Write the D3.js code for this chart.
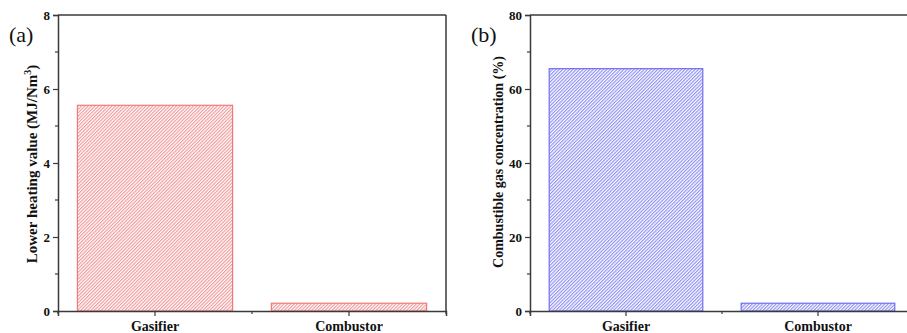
<!DOCTYPE html>
<html>
  <head>
    <meta charset="utf-8" />
    <script src="https://d3js.org/d3.v7.min.js"></script>
    <style>
      body {
        margin: 0;
        background: #fff;
      }
    </style>
  </head>
  <body>
    <svg id="chart" width="907" height="333" style="font-family: 'Liberation Serif', serif"></svg>

    <script>
      // Data
      const categories = ["Gasifier", "Combustor"];
      const lhvValues = [5.56, 0.21]; // MJ/Nm3
      const gasValues = [65.5, 2.1]; // %
      const lhvTicks = [0, 2, 4, 6, 8];
      const gasTicks = [0, 20, 40, 60, 80];

      const FONT = "'Liberation Serif', serif";
      const svg = d3.select("#chart");
      const defs = svg.append("defs");

      // diagonal hatch fills, one per colour
      const makeHatch = (id, color) => {
        const s = 2.4;
        const p = defs
          .append("pattern")
          .attr("id", id)
          .attr("patternUnits", "userSpaceOnUse")
          .attr("width", s)
          .attr("height", s)
          .attr("patternTransform", "rotate(45)");
        p.append("rect").attr("width", s).attr("height", s).attr("fill", "#fff");
        p.append("line")
          .attr("x1", 0.6)
          .attr("y1", 0)
          .attr("x2", 0.6)
          .attr("y2", s)
          .attr("stroke", color)
          .attr("stroke-width", 1.1);
      };
      makeHatch("hatchRed", "#f29494");
      makeHatch("hatchBlue", "#8a8af2");

      const drawPanel = function (opts) {
        const { left, right, top, bottom, values, ticks, maxV } = opts;
        const g = svg.append("g");

        const xc = d3.scaleBand().domain(categories).range([left, right]);
        const y = d3.scaleLinear().domain([0, maxV]).range([bottom, top]);
        const axisColor = "#3a3a3a";

        // bars (80% of each category slot)
        g.selectAll("rect.bar")
          .data(values)
          .join("rect")
          .attr("class", "bar")
          .attr("x", (d, i) => xc(categories[i]) + xc.bandwidth() * 0.1)
          .attr("width", xc.bandwidth() * 0.8)
          .attr("y", (d) => y(d))
          .attr("height", (d) => y(0) - y(d))
          .attr("fill", `url(#${opts.hatch})`)
          .attr("stroke", opts.stroke)
          .attr("stroke-width", 1.2);

        // frame: top and right
        g.append("line")
          .attr("x1", left)
          .attr("x2", right)
          .attr("y1", top)
          .attr("y2", top)
          .attr("stroke", axisColor)
          .attr("stroke-width", 1.5);
        g.append("line")
          .attr("x1", right)
          .attr("x2", right)
          .attr("y1", top)
          .attr("y2", bottom)
          .attr("stroke", axisColor)
          .attr("stroke-width", 1.5);

        // y axis with minor ticks
        const yAxis = g
          .append("g")
          .attr("transform", `translate(${left},0)`)
          .call(d3.axisLeft(y).tickValues(ticks).tickSize(5).tickPadding(3));
        const step = ticks[1] - ticks[0];
        g.append("g")
          .selectAll("line")
          .data(ticks.slice(0, -1).map((t) => t + step / 2))
          .join("line")
          .attr("x1", left - 3)
          .attr("x2", left)
          .attr("y1", (d) => y(d))
          .attr("y2", (d) => y(d))
          .attr("stroke", axisColor)
          .attr("stroke-width", 1.2);

        // x axis, major ticks at centres, minor at slot edges
        const xAxis = g
          .append("g")
          .attr("transform", `translate(0,${bottom})`)
          .call(d3.axisBottom(xc).tickSize(5).tickPadding(5));
        g.append("g")
          .selectAll("line")
          .data([left, xc(categories[1]), right])
          .join("line")
          .attr("x1", (d) => d)
          .attr("x2", (d) => d)
          .attr("y1", bottom)
          .attr("y2", bottom + 3)
          .attr("stroke", axisColor)
          .attr("stroke-width", 1.2);

        [yAxis, xAxis].forEach((a) => {
          a.attr("font-family", FONT);
          a.select(".domain").attr("stroke", axisColor).attr("stroke-width", 1.5);
          a.selectAll(".tick line").attr("stroke", axisColor).attr("stroke-width", 1.2);
          a.selectAll(".tick text")
            .attr("fill", "#111")
            .style("font-family", FONT)
            .style("font-weight", "bold");
        });
        yAxis.selectAll(".tick text").attr("font-size", 13);
        xAxis.selectAll(".tick text").attr("font-size", 14);

        // y title
        const yt = g
          .append("text")
          .attr("transform", `translate(${opts.titleX},${opts.titleY}) rotate(-90)`)
          .attr("text-anchor", "middle")
          .attr("font-size", opts.titleSize)
          .attr("fill", "#111")
          .style("font-family", FONT)
          .style("font-weight", "bold");
        yt.append("tspan").text(opts.title);
        if (opts.sup) {
          yt.append("tspan").attr("dy", -6).attr("font-size", 10).text(opts.sup);
          yt.append("tspan").attr("dy", 6).text(")");
        }

        // panel letter
        g.append("text")
          .attr("x", opts.letterX)
          .attr("y", 42)
          .attr("font-size", 22)
          .attr("fill", "#111")
          .style("font-family", FONT)
          .text(opts.letter);
      };

      drawPanel({
        left: 58,
        right: 446,
        top: 15,
        bottom: 311,
        values: lhvValues,
        ticks: lhvTicks,
        maxV: 8,
        hatch: "hatchRed",
        stroke: "#f07a7a",
        title: "Lower heating value (MJ/Nm",
        sup: "3",
        titleX: 37,
        titleY: 164,
        titleSize: 15,
        letter: "(a)",
        letterX: 9,
      });

      drawPanel({
        left: 530,
        right: 914,
        top: 15,
        bottom: 311,
        values: gasValues,
        ticks: gasTicks,
        maxV: 80,
        hatch: "hatchBlue",
        stroke: "#7070ee",
        title: "Combustible gas concentration (%)",
        titleX: 503,
        titleY: 162,
        titleSize: 14,
        letter: "(b)",
        letterX: 471,
      });
    </script>
  </body>
</html>
